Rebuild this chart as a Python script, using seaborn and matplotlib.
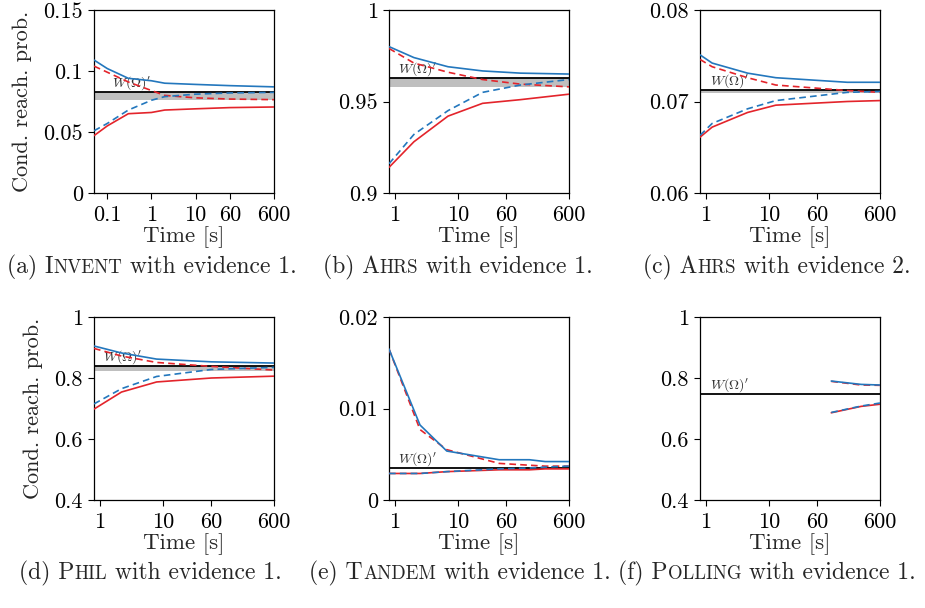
import matplotlib
matplotlib.use("Agg")
import matplotlib.pyplot as plt
import seaborn as sns

# (a) Invent with evidence 1
inv_t = [0.05, 0.1, 0.3, 1, 2, 10, 60, 600]
inv_up = [0.109, 0.102, 0.094, 0.092, 0.090, 0.089, 0.088, 0.087]
inv_up_d = [0.104, 0.099, 0.091, 0.084, 0.080, 0.078, 0.077, 0.0765]
inv_lo_d = [0.051, 0.057, 0.068, 0.076, 0.079, 0.081, 0.082, 0.0825]
inv_lo = [0.047, 0.055, 0.065, 0.066, 0.068, 0.069, 0.070, 0.0705]
inv_w, inv_band = 0.0825, (0.0765, 0.0825)

# (b) Ahrs with evidence 1
ah1_t = [0.8, 2, 7, 25, 100, 600]
ah1_up = [0.980, 0.974, 0.969, 0.9667, 0.9655, 0.965]
ah1_up_d = [0.979, 0.971, 0.966, 0.962, 0.9595, 0.958]
ah1_lo_d = [0.916, 0.932, 0.945, 0.955, 0.959, 0.962]
ah1_lo = [0.914, 0.928, 0.942, 0.949, 0.951, 0.954]
ah1_w, ah1_band = 0.963, (0.958, 0.963)

# (c) Ahrs with evidence 2
ah2_t = [0.8, 1.25, 4.6, 13, 180, 600]
ah2_up = [0.0751, 0.0742, 0.0731, 0.0726, 0.0721, 0.0721]
ah2_up_d = [0.0746, 0.0738, 0.0726, 0.0718, 0.0712, 0.0710]
ah2_lo_d = [0.0663, 0.0676, 0.0692, 0.0701, 0.0710, 0.0711]
ah2_lo = [0.0661, 0.0672, 0.0688, 0.0696, 0.0700, 0.0701]
ah2_w, ah2_band = 0.0713, (0.0709, 0.0713)

# (d) Phil with evidence 1
phil_t = [0.8, 2.2, 8, 60, 600]
phil_up = [0.905, 0.882, 0.862, 0.853, 0.849]
phil_up_d = [0.897, 0.872, 0.851, 0.838, 0.826]
phil_lo_d = [0.715, 0.765, 0.805, 0.828, 0.835]
phil_lo = [0.698, 0.754, 0.787, 0.800, 0.806]
phil_w, phil_band = 0.838, (0.824, 0.838)

# (e) Tandem with evidence 1
tan_t = [0.8, 2.5, 6.7, 46, 140, 250, 600]
tan_up = [0.0165, 0.0082, 0.00535, 0.0044, 0.0044, 0.0042, 0.0042]
tan_up_d = [0.0165, 0.0077, 0.0055, 0.0040, 0.0038, 0.0037, 0.0037]
tan_lo_d = [0.0029, 0.0029, 0.0031, 0.0034, 0.0035, 0.0036, 0.0037]
tan_lo = [0.0029, 0.0029, 0.0031, 0.0033, 0.0033, 0.0034, 0.0034]
tan_w, tan_band = 0.0035, None

# (f) Polling with evidence 1
pol_t = [100, 300, 600]
pol_up = [0.790, 0.779, 0.777]
pol_up_d = [0.789, 0.777, 0.776]
pol_lo_d = [0.687, 0.708, 0.718]
pol_lo = [0.686, 0.707, 0.714]
pol_w, pol_band = 0.746, None

x_ticks_a = [0.1, 1, 10, 60, 600]
x_ticks = [1, 10, 60, 600]

BLUE = "#2377bd"
RED = "#e3242b"

sns.set_theme(style="ticks")
plt.rcParams["font.family"] = ["cmr10", "DejaVu Serif"]
plt.rcParams["mathtext.fontset"] = "cm"
plt.rcParams["axes.unicode_minus"] = False
plt.rcParams["axes.formatter.use_mathtext"] = True

W_PX, H_PX = 925, 608
fig = plt.figure(figsize=(W_PX / 100, H_PX / 100), dpi=100)

panels = [
    # left px, top px, data, xlim, xticks, yticks, ylabels, w text x
    (94, 10, (inv_t, inv_up, inv_up_d, inv_lo_d, inv_lo, inv_w, inv_band),
     0.05, x_ticks_a, [0, 0.05, 0.1, 0.15], ["0", "0.05", "0.1", "0.15"], 0.125),
    (389, 10, (ah1_t, ah1_up, ah1_up_d, ah1_lo_d, ah1_lo, ah1_w, ah1_band),
     0.8, x_ticks, [0.9, 0.95, 1.0], ["0.9", "0.95", "1"], 1.1),
    (700, 10, (ah2_t, ah2_up, ah2_up_d, ah2_lo_d, ah2_lo, ah2_w, ah2_band),
     0.8, x_ticks, [0.06, 0.07, 0.08], ["0.06", "0.07", "0.08"], 1.15),
    (94, 317, (phil_t, phil_up, phil_up_d, phil_lo_d, phil_lo, phil_w, phil_band),
     0.8, x_ticks, [0.4, 0.6, 0.8, 1.0], ["0.4", "0.6", "0.8", "1"], 1.12),
    (389, 317, (tan_t, tan_up, tan_up_d, tan_lo_d, tan_lo, tan_w, tan_band),
     0.8, x_ticks, [0, 0.01, 0.02], ["0", "0.01", "0.02"], 1.12),
    (700, 317, (pol_t, pol_up, pol_up_d, pol_lo_d, pol_lo, pol_w, pol_band),
     0.8, x_ticks, [0.4, 0.6, 0.8, 1.0], ["0.4", "0.6", "0.8", "1"], 1.15),
]

for i, (lpx, tpx, data, xmin, xt, yt, ylab, wx) in enumerate(panels):
    ax = fig.add_axes([lpx / W_PX, (H_PX - tpx - 183) / H_PX, 180 / W_PX, 183 / H_PX])
    t, up, up_d, lo_d, lo, w, band = data
    if band is not None:
        ax.axhspan(band[0], band[1], color="#bfbfbf", lw=0, zorder=1)
    ax.axhline(w, color="black", lw=1.3, zorder=2)
    ax.text(wx, w, r"$W(\Omega)'$", fontsize=10, color="#333333",
            va="bottom", ha="left", zorder=2)
    sns.lineplot(x=t, y=lo, ax=ax, color=RED, lw=1.2, zorder=3)
    sns.lineplot(x=t, y=up_d, ax=ax, color=RED, lw=1.2, ls=(0, (4, 2.5)), zorder=3)
    sns.lineplot(x=t, y=lo_d, ax=ax, color=BLUE, lw=1.2, ls=(0, (4, 2.5)), zorder=4)
    sns.lineplot(x=t, y=up, ax=ax, color=BLUE, lw=1.2, zorder=4)
    ax.set_xscale("log")
    ax.set_xlim(xmin, 600)
    ax.set_xticks(xt)
    ax.set_xticklabels([str(v) for v in xt])
    ax.minorticks_off()
    ax.set_yticks(yt)
    ax.set_yticklabels(ylab)
    ax.set_ylim(yt[0], yt[-1])
    ax.tick_params(direction="out", length=4.5, width=0.8, labelsize=16,
                   color="black", labelcolor="black")
    ax.tick_params(axis="x", pad=4.5)
    ax.tick_params(axis="y", pad=3.5)
    for s in ax.spines.values():
        s.set_color("black")
        s.set_linewidth(0.9)
    ax.set_xlabel("Time [s]", fontsize=16.5, labelpad=1)
    if lpx == 94:
        ax.set_ylabel("Cond. reach. prob.", fontsize=16, labelpad=8)
    else:
        ax.set_ylabel("")

# captions with fake small caps
BIG, SMALL = 17, 13.6
captions = [
    (152, 273, [("(a) I", BIG), ("NVENT", SMALL), (" with evidence 1.", BIG)]),
    (458, 273, [("(b) A", BIG), ("HRS", SMALL), (" with evidence 1.", BIG)]),
    (777, 273, [("(c) A", BIG), ("HRS", SMALL), (" with evidence 2.", BIG)]),
    (150, 579, [("(d) P", BIG), ("HIL", SMALL), (" with evidence 1.", BIG)]),
    (460, 579, [("(e) T", BIG), ("ANDEM", SMALL), (" with evidence 1.", BIG)]),
    (767, 579, [("(f) P", BIG), ("OLLING", SMALL), (" with evidence 1.", BIG)]),
]
cap_texts = []
for cx, by, parts in captions:
    ts = [fig.text(0, 1 - by / H_PX, s, fontsize=fs, ha="left", va="baseline")
          for s, fs in parts]
    cap_texts.append((cx, ts))

fig.canvas.draw()
r = fig.canvas.get_renderer()
for cx, ts in cap_texts:
    widths = [tt.get_window_extent(r).width for tt in ts]
    x = cx - sum(widths) / 2
    for tt, wd in zip(ts, widths):
        tt.set_x(x / W_PX)
        x += wd

fig.savefig("out.png", dpi=100)
